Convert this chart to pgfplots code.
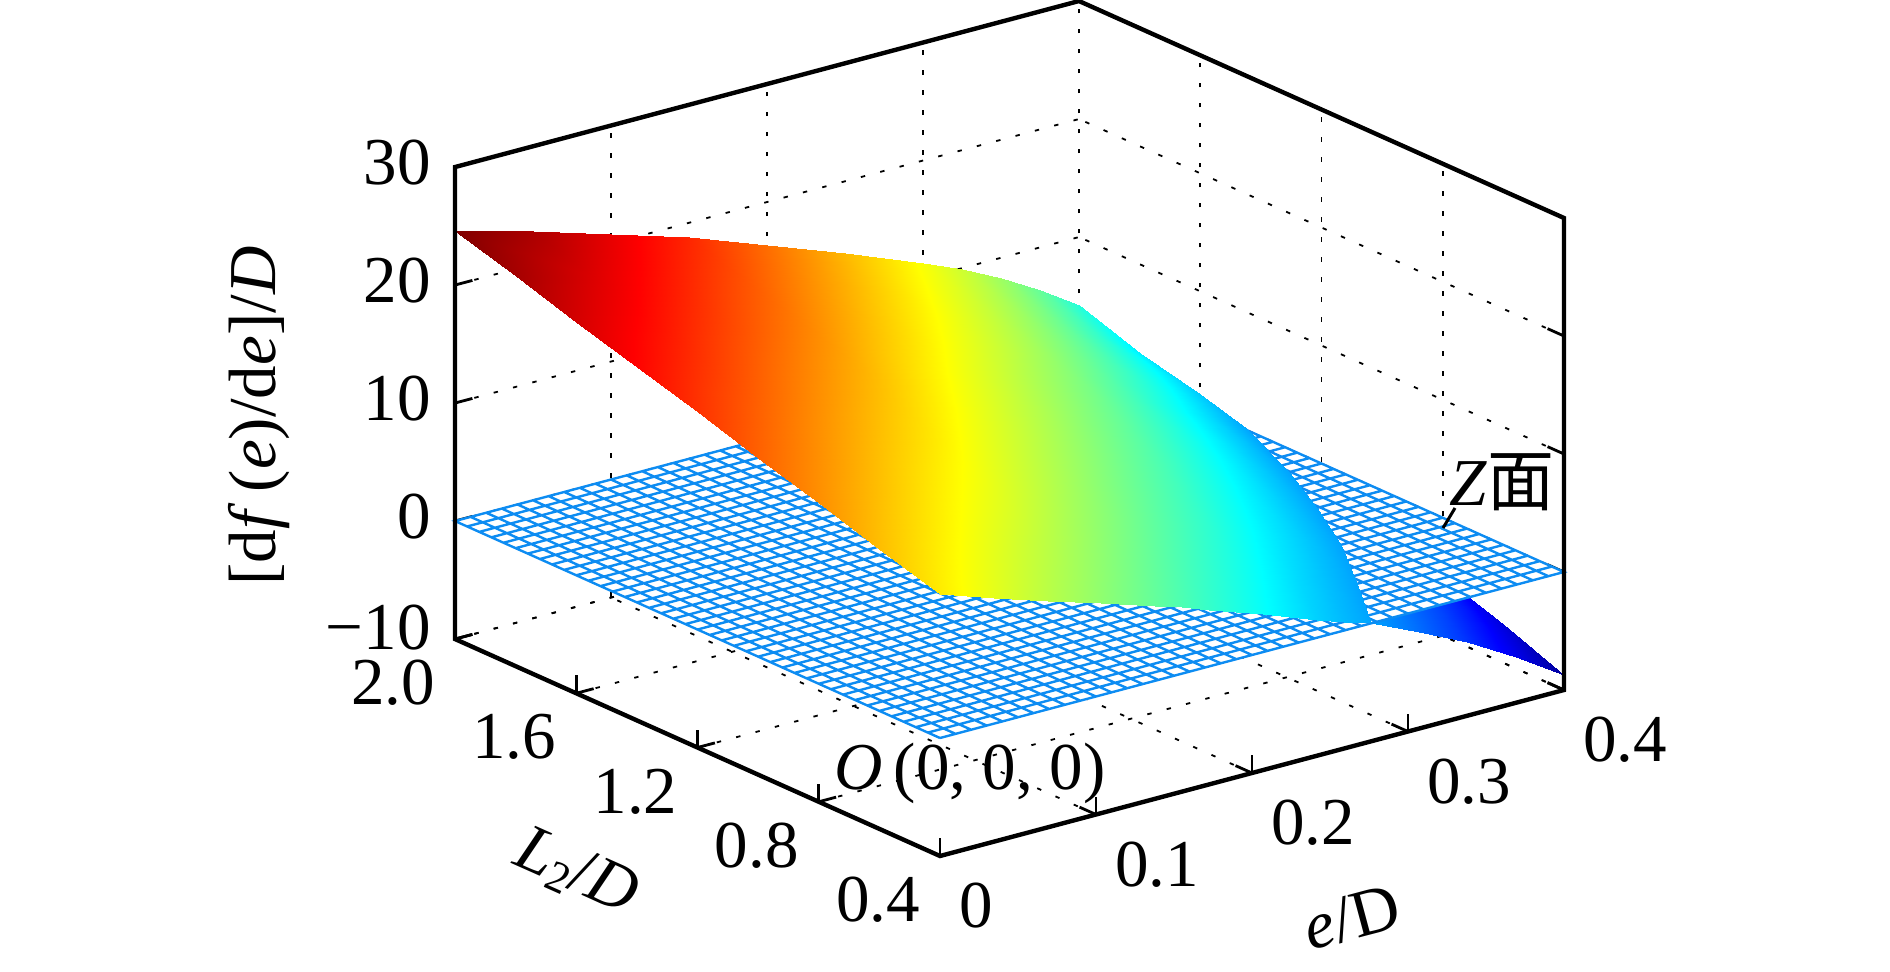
\documentclass[border=0pt]{standalone}
\usepackage{pgfplots}
\pgfplotsset{compat=1.18}
\usepackage{fontspec}
\setmainfont{Liberation Serif}
\newfontfamily\cjk{Noto Sans CJK SC}
\newcommand\bigf{\fontsize{33.5}{40}\selectfont}
\definecolor{meshblue}{rgb}{0.05,0.55,0.95}
\begin{document}
\begin{tikzpicture}
\begin{axis}[
  x={(780pt,207.5pt)}, y={(-151.56pt,67.8pt)}, z={(0pt,5.9pt)},
  xmin=0, xmax=0.4, ymin=0.4, ymax=2, zmin=-10, zmax=30,
  clip=false,
  colormap/jet,
  point meta min=-9.7, point meta max=24.3,
  axis line style={draw=none},
  grid=major,
  grid style={black, line width=0.9pt, dash pattern=on 2.2pt off 7.8pt},
  tick style={black, line width=1.4pt},
  major tick length=9pt,
  tick align=inside,
  xtick pos=lower, ytick pos=lower, ztick pos=lower,
  xtick={0,0.1,0.2,0.3,0.4}, xticklabels={0,0.1,0.2,0.3,0.4},
  ytick={0.4,0.8,1.2,1.6,2.0}, yticklabels={0.4,0.8,1.2,1.6,2.0},
  ztick={-10,0,10,20,30}, zticklabels={\raisebox{8pt}{−10},0,10,20,30},
  tick label style={font=\bigf},
  xticklabel style={anchor=west, inner sep=0pt, xshift=9.5pt, yshift=-25pt},
  yticklabel style={anchor=center, inner sep=0pt, xshift=-31pt, yshift=-22pt},
  zticklabel style={anchor=east, inner sep=0pt, xshift=-12pt, yshift=2pt},
  xlabel={\textit{e}/D},
  ylabel={\textit{L}\raisebox{-0.25ex}{\fontsize{22}{24}\selectfont 2}/\textit{D}},
  zlabel={[d\textit{f}\,(\textit{e})/d\textit{e}]/\textit{D}},
  label style={font=\bigf},
  xlabel style={at={(rel axis cs:0.66,0,0)}, anchor=center, rotate=15, xshift=-22.1pt, yshift=-82.6pt},
  ylabel style={at={(rel axis cs:0,0.749,0)}, anchor=center, rotate=-24, xshift=36.5pt, yshift=-81.9pt},
  zlabel style={at={(rel axis cs:0,1,0.4725)}, anchor=center, yshift=98pt},
]
% part of the surface below the Z plane
\addplot3[surf, shader=interp, point meta=z, mesh/rows=4] coordinates {
(0.276,0.4,0)(0.307,0.4,-1.8)(0.338,0.4,-3.75)(0.369,0.4,-6.1)(0.4,0.4,-8.7)
(0.306,0.6,0)(0.3295,0.6,-1.4)(0.353,0.6,-2.9)(0.3765,0.6,-4.7)(0.4,0.6,-6.7)
(0.335,0.8,0)(0.351,0.8,-1.1)(0.3675,0.8,-2.2)(0.384,0.8,-3.5)(0.4,0.8,-5)
(0.358,1.0,0)(0.3685,1.0,-0.8)(0.379,1.0,-1.6)(0.3895,1.0,-2.5)(0.4,1.0,-3.6)
};
% Z plane: white face
\addplot3[fill=white, draw=none] coordinates {(0,0.4,0)(0.4,0.4,0)(0.4,2,0)(0,2,0)(0,0.4,0)};
% Z plane: mesh lines
\addplot3[meshblue, line width=1.2pt, no marks] coordinates {
(0,0.4,0)(0,2,0)(0.01,2,0)(0.01,0.4,0)(0.02,0.4,0)(0.02,2,0)(0.03,2,0)(0.03,0.4,0)
(0.04,0.4,0)(0.04,2,0)(0.05,2,0)(0.05,0.4,0)(0.06,0.4,0)(0.06,2,0)(0.07,2,0)(0.07,0.4,0)
(0.08,0.4,0)(0.08,2,0)(0.09,2,0)(0.09,0.4,0)(0.10,0.4,0)(0.10,2,0)(0.11,2,0)(0.11,0.4,0)
(0.12,0.4,0)(0.12,2,0)(0.13,2,0)(0.13,0.4,0)(0.14,0.4,0)(0.14,2,0)(0.15,2,0)(0.15,0.4,0)
(0.16,0.4,0)(0.16,2,0)(0.17,2,0)(0.17,0.4,0)(0.18,0.4,0)(0.18,2,0)(0.19,2,0)(0.19,0.4,0)
(0.20,0.4,0)(0.20,2,0)(0.21,2,0)(0.21,0.4,0)(0.22,0.4,0)(0.22,2,0)(0.23,2,0)(0.23,0.4,0)
(0.24,0.4,0)(0.24,2,0)(0.25,2,0)(0.25,0.4,0)(0.26,0.4,0)(0.26,2,0)(0.27,2,0)(0.27,0.4,0)
(0.28,0.4,0)(0.28,2,0)(0.29,2,0)(0.29,0.4,0)(0.30,0.4,0)(0.30,2,0)(0.31,2,0)(0.31,0.4,0)
(0.32,0.4,0)(0.32,2,0)(0.33,2,0)(0.33,0.4,0)(0.34,0.4,0)(0.34,2,0)(0.35,2,0)(0.35,0.4,0)
(0.36,0.4,0)(0.36,2,0)(0.37,2,0)(0.37,0.4,0)(0.38,0.4,0)(0.38,2,0)(0.39,2,0)(0.39,0.4,0)
(0.40,0.4,0)(0.40,2,0)
(0,2,0)(0,1.96,0)(0.4,1.96,0)(0.4,1.92,0)(0,1.92,0)(0,1.88,0)(0.4,1.88,0)(0.4,1.84,0)
(0,1.84,0)(0,1.80,0)(0.4,1.80,0)(0.4,1.76,0)(0,1.76,0)(0,1.72,0)(0.4,1.72,0)(0.4,1.68,0)
(0,1.68,0)(0,1.64,0)(0.4,1.64,0)(0.4,1.60,0)(0,1.60,0)(0,1.56,0)(0.4,1.56,0)(0.4,1.52,0)
(0,1.52,0)(0,1.48,0)(0.4,1.48,0)(0.4,1.44,0)(0,1.44,0)(0,1.40,0)(0.4,1.40,0)(0.4,1.36,0)
(0,1.36,0)(0,1.32,0)(0.4,1.32,0)(0.4,1.28,0)(0,1.28,0)(0,1.24,0)(0.4,1.24,0)(0.4,1.20,0)
(0,1.20,0)(0,1.16,0)(0.4,1.16,0)(0.4,1.12,0)(0,1.12,0)(0,1.08,0)(0.4,1.08,0)(0.4,1.04,0)
(0,1.04,0)(0,1.00,0)(0.4,1.00,0)(0.4,0.96,0)(0,0.96,0)(0,0.92,0)(0.4,0.92,0)(0.4,0.88,0)
(0,0.88,0)(0,0.84,0)(0.4,0.84,0)(0.4,0.80,0)(0,0.80,0)(0,0.76,0)(0.4,0.76,0)(0.4,0.72,0)
(0,0.72,0)(0,0.68,0)(0.4,0.68,0)(0.4,0.64,0)(0,0.64,0)(0,0.60,0)(0.4,0.60,0)(0.4,0.56,0)
(0,0.56,0)(0,0.52,0)(0.4,0.52,0)(0.4,0.48,0)(0,0.48,0)(0,0.44,0)(0.4,0.44,0)(0.4,0.40,0)
(0,0.40,0)
};
% part of the surface above the Z plane
\addplot3[surf, shader=interp, point meta=z, mesh/rows=9] coordinates {
(0,0.4,12.2)(0.0345,0.4,10.68)(0.069,0.4,9.22)(0.1035,0.4,7.84)(0.138,0.4,6.37)(0.15525,0.4,5.6)(0.1725,0.4,4.82)(0.18975,0.4,4.03)(0.207,0.4,3.23)(0.22425,0.4,2.37)(0.2415,0.4,1.49)(0.25875,0.4,0.74)(0.276,0.4,0)
(0,0.6,13.75)(0.03825,0.6,12.11)(0.0765,0.6,10.52)(0.11475,0.6,8.99)(0.153,0.6,7.36)(0.17213,0.6,6.5)(0.19125,0.6,5.62)(0.21038,0.6,4.74)(0.2295,0.6,3.85)(0.24863,0.6,2.87)(0.26775,0.6,1.84)(0.28688,0.6,0.92)(0.306,0.6,0)
(0,0.8,15.3)(0.041875,0.8,13.56)(0.08375,0.8,11.86)(0.125625,0.8,10.19)(0.1675,0.8,8.37)(0.18844,0.8,7.44)(0.209375,0.8,6.49)(0.23031,0.8,5.51)(0.25125,0.8,4.51)(0.27219,0.8,3.4)(0.293125,0.8,2.25)(0.31406,0.8,1.13)(0.335,0.8,0)
(0,1.0,16.85)(0.04475,1.0,15.03)(0.0895,1.0,13.19)(0.13425,1.0,11.41)(0.179,1.0,9.44)(0.20138,1.0,8.42)(0.22375,1.0,7.38)(0.24613,1.0,6.32)(0.2685,1.0,5.24)(0.29088,1.0,4.0)(0.31325,1.0,2.70)(0.33563,1.0,1.36)(0.358,1.0,0)
(0,1.2,18.4)(0.047375,1.2,16.51)(0.09475,1.2,14.59)(0.142125,1.2,12.68)(0.1895,1.2,10.53)(0.21319,1.2,9.44)(0.236875,1.2,8.33)(0.26056,1.2,7.18)(0.28425,1.2,6.0)(0.30794,1.2,4.6)(0.331625,1.2,3.15)(0.35531,1.2,1.6)(0.379,1.2,0)
(0,1.45,20.34)(0.05,1.45,18.41)(0.1,1.45,16.37)(0.15,1.45,14.32)(0.2,1.45,11.96)(0.225,1.45,10.77)(0.25,1.45,9.56)(0.275,1.45,8.32)(0.3,1.45,7.04)(0.325,1.45,5.5)(0.35,1.45,3.80)(0.375,1.45,2.0)(0.4,1.45,0.1)
(0,1.6,21.5)(0.05,1.6,19.63)(0.1,1.6,17.63)(0.15,1.6,15.57)(0.2,1.6,13.24)(0.225,1.6,12.05)(0.25,1.6,10.84)(0.275,1.6,9.6)(0.3,1.6,8.3)(0.325,1.6,6.8)(0.35,1.6,5.16)(0.375,1.6,3.3)(0.4,1.6,1.3)
(0,1.8,23.05)(0.05,1.8,21.2)(0.1,1.8,19.2)(0.15,1.8,17.15)(0.2,1.8,14.8)(0.225,1.8,13.6)(0.25,1.8,12.38)(0.275,1.8,11.1)(0.3,1.8,9.77)(0.325,1.8,8.3)(0.35,1.8,6.64)(0.375,1.8,4.7)(0.4,1.8,2.5)
(0,2,24.6)(0.05,2,22.85)(0.1,2,20.8)(0.15,2,18.8)(0.2,2,16.4)(0.225,2,15.15)(0.25,2,13.9)(0.275,2,12.65)(0.3,2,11.35)(0.325,2,9.9)(0.35,2,8.25)(0.375,2,6.4)(0.4,2,4.2)
};
% box outline
\addplot3[black, line width=2.2pt, no marks, line join=miter] coordinates {
(0,2,30)(0.4,2,30)(0.4,0.4,30)(0.4,0.4,-10)(0,0.4,-10)(0,2,-10)(0,2,30)(0.4,2,30)};
\coordinate (c) at (axis cs:0,0.4,-10);
\end{axis}
\node[font=\bigf, inner sep=0pt] at ([shift={(15pt,41.5pt)}]c) {\textit{O}\,(0, 0, 0)};
\node[font=\bigf, inner sep=0pt, anchor=center] at ([shift={(281pt,187pt)}]c) {\textit{Z}{\cjk 面}};
\draw[black, line width=1.5pt] ([shift={(257.5pt,174pt)}]c) -- ([shift={(251.5pt,164pt)}]c);
\pgfresetboundingbox
\path[use as bounding box] ([shift={(-470pt,-57.5pt)}]c) rectangle ([shift={(475pt,428pt)}]c);
\end{tikzpicture}
\end{document}
